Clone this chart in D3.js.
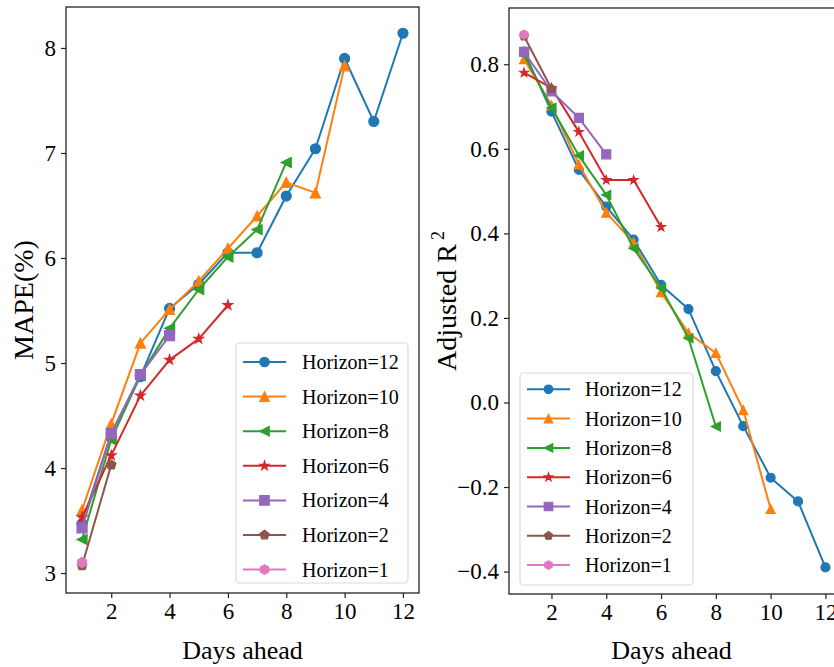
<!DOCTYPE html>
<html><head><meta charset="utf-8">
<script src="https://cdn.jsdelivr.net/npm/d3@7"></script>
<style>body{margin:0;background:#fff}svg{display:block}text{font-family:"Liberation Serif","Times New Roman",serif;fill:#000}</style>
</head><body><svg id="c" width="834" height="667"></svg>
<script>
const days = [1,2,3,4,5,6,7,8,9,10,11,12];
const labels = ["Horizon=12","Horizon=10","Horizon=8","Horizon=6","Horizon=4","Horizon=2","Horizon=1"];
const colors = ["#1f77b4","#ff7f0e","#2ca02c","#d62728","#9467bd","#8c564b","#e377c2"];
const markers = ["circle","triUp","triLeft","star","square","pentagon","hexagon"];

const mapeH12 = [3.47,4.33,4.87,5.52,5.75,6.05,6.05,6.59,7.04,7.90,7.30,8.14];
const mapeH10 = [3.60,4.42,5.19,5.51,5.78,6.09,6.40,6.72,6.62,7.83];
const mapeH8  = [3.32,4.27,4.88,5.33,5.70,6.01,6.27,6.91];
const mapeH6  = [3.53,4.12,4.69,5.03,5.23,5.55];
const mapeH4  = [3.43,4.33,4.89,5.26];
const mapeH2  = [3.07,4.03];
const mapeH1  = [3.10];

const r2H12 = [0.830,0.688,0.550,0.463,0.385,0.278,0.221,0.074,-0.056,-0.178,-0.234,-0.390];
const r2H10 = [0.812,0.703,0.563,0.449,0.378,0.261,0.164,0.117,-0.018,-0.252];
const r2H8  = [0.822,0.697,0.584,0.491,0.364,0.271,0.152,-0.057];
const r2H6  = [0.780,0.744,0.640,0.526,0.526,0.415];
const r2H4  = [0.829,0.736,0.673,0.587];
const r2H2  = [0.866,0.742];
const r2H1  = [0.870];

const xTicks = [2,4,6,8,10,12];
const mapeTicks = [3,4,5,6,7,8];
const r2Ticks = [-0.4,-0.2,0.0,0.2,0.4,0.6,0.8];

const mapeSeries = [mapeH12,mapeH10,mapeH8,mapeH6,mapeH4,mapeH2,mapeH1];
const r2Series = [r2H12,r2H10,r2H8,r2H6,r2H4,r2H2,r2H1];

const svg = d3.select("#c");

function markerPath(type, s){
  const r = s/2;
  const poly = (n, rad, rot, inner) => {
    const pts = [];
    const m = inner ? n*2 : n;
    for(let i=0;i<m;i++){
      const a = rot + i*2*Math.PI/m;
      const rr = inner ? (i%2===0 ? rad : rad*inner) : rad;
      pts.push([rr*Math.sin(a), -rr*Math.cos(a)]);
    }
    return "M"+pts.map(p=>p[0].toFixed(2)+","+p[1].toFixed(2)).join("L")+"Z";
  };
  switch(type){
    case "circle": return `M${r},0A${r},${r} 0 1,1 ${-r},0A${r},${r} 0 1,1 ${r},0Z`;
    case "triUp": return `M0,${-r}L${r},${r}L${-r},${r}Z`;
    case "triLeft": return `M${-r},0L${r},${-r}L${r},${r}Z`;
    case "square": return `M${-r},${-r}L${r},${-r}L${r},${r}L${-r},${r}Z`;
    case "star": return poly(5, r*1.0, 0, 0.381966);
    case "pentagon": return poly(5, r, 0);
    case "hexagon": return poly(6, r, 0);
  }
}

function panel(o){
  const g = svg.append("g");
  const x = d3.scaleLinear().domain([0.45,12.55]).range([o.x0,o.x1]);
  const y = d3.scaleLinear().domain(o.yDomain).range([o.y1,o.y0]);
  // series
  o.series.forEach((vals,i)=>{
    const pts = vals.map((v,j)=>[days[j],v]);
    g.append("path").attr("d", d3.line().x(d=>x(d[0])).y(d=>y(d[1]))(pts))
      .attr("fill","none").attr("stroke",colors[i]).attr("stroke-width",2).attr("stroke-linejoin","round");
    g.selectAll(null).data(pts).enter().append("path")
      .attr("transform",d=>`translate(${x(d[0])},${y(d[1])})`)
      .attr("d", markerPath(markers[i], o.ms))
      .attr("fill",colors[i]).attr("stroke",colors[i]).attr("stroke-width",1.2).attr("stroke-linejoin","miter");
  });
  // spines
  g.append("rect").attr("x",o.x0).attr("y",o.y0).attr("width",o.x1-o.x0).attr("height",o.y1-o.y0)
    .attr("fill","none").attr("stroke","#222").attr("stroke-width",1.3);
  // axes
  const ax = g.append("g").attr("transform",`translate(0,${o.y1})`)
    .call(d3.axisBottom(x).tickValues(xTicks).tickSize(5).tickPadding(5).tickFormat(d3.format("d")));
  const ay = g.append("g").attr("transform",`translate(${o.x0},0)`)
    .call(d3.axisLeft(y).tickValues(o.yTicks).tickSize(5).tickPadding(5).tickFormat(o.fmt));
  [ax,ay].forEach(a=>{
    a.select(".domain").remove();
    a.selectAll("line").attr("stroke","#222").attr("stroke-width",1.2);
    a.selectAll("text").style("font-family",'"Liberation Serif",serif').style("font-size","23px").attr("fill","#000");
  });
  // labels
  g.append("text").attr("x",(o.x0+Math.min(o.x1,834))/2 + (o.xlabelShift||0)).attr("y",659)
    .attr("text-anchor","middle").style("font-size","26px").text("Days ahead");
  const yl = g.append("text").attr("transform",`translate(${o.ylx},${(o.y0+o.y1)/2}) rotate(-90)`)
    .attr("text-anchor","middle").style("font-size","28px");
  yl.append("tspan").text(o.ylabel);
  if(o.sup){ yl.append("tspan").attr("dx",4).attr("dy",-12).style("font-size","18px").text(o.sup); }
  // legend
  const L = o.legend;
  g.append("rect").attr("x",L.x).attr("y",L.y).attr("width",L.w).attr("height",L.h).attr("rx",4)
    .attr("fill","rgba(255,255,255,0.85)").attr("stroke","#d9d9d9").attr("stroke-width",1.2);
  labels.forEach((lab,i)=>{
    const cy = L.row0 + i*L.dy;
    g.append("line").attr("x1",L.hx0).attr("x2",L.hx1).attr("y1",cy).attr("y2",cy)
      .attr("stroke",colors[i]).attr("stroke-width",2);
    g.append("path").attr("transform",`translate(${(L.hx0+L.hx1)/2},${cy})`).attr("d",markerPath(markers[i],L.ms))
      .attr("fill",colors[i]).attr("stroke",colors[i]).attr("stroke-width",1.2);
    g.append("text").attr("x",L.tx).attr("y",cy).attr("dy","0.35em").style("font-size","20px").text(lab);
  });
}

panel({x0:66,x1:419,y0:7,y1:593,yDomain:[2.81,8.39],yTicks:mapeTicks,fmt:d3.format("d"),
  series:mapeSeries,ms:10,ylabel:"MAPE(%)",ylx:33,
  legend:{x:236,y:343,w:172,h:240,row0:362,dy:34.6,hx0:243,hx1:286,tx:302,ms:9.5}});
panel({x0:509,x1:840.5,y0:8,y1:594,yDomain:[-0.453,0.933],yTicks:r2Ticks,
  fmt:d=>d3.format(".1f")(d).replace("-","\u2212"),
  series:r2Series,ms:9,ylabel:"Adjusted R",sup:"2",ylx:456,xlabelShift:0,
  legend:{x:520,y:373,w:173,h:212,row0:389.3,dy:29.3,hx0:527,hx1:570,tx:585,ms:8.5}});
</script></body></html>
